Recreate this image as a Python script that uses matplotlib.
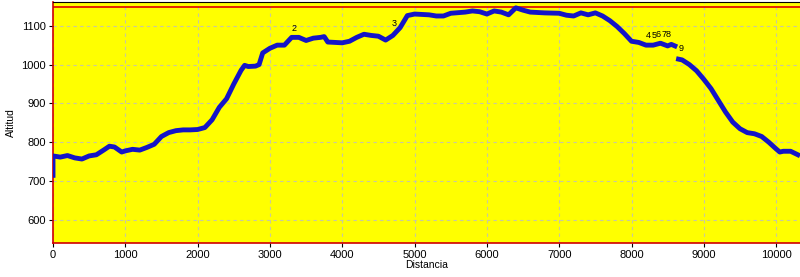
import numpy as np
import matplotlib
matplotlib.use("Agg")
import matplotlib.pyplot as plt

plt.rcParams['font.family'] = ['Liberation Sans', 'DejaVu Sans']

# perfil de altitud (tramo 1, hasta el punto 8)
dist1 = [0, 0, 100, 200, 300, 400, 500, 600, 700, 780, 850, 950, 1000, 1100, 1200,
         1300, 1400, 1500, 1600, 1700, 1800, 1900, 2000, 2100, 2200, 2300, 2400,
         2500, 2600, 2650, 2700, 2800, 2850, 2900, 3000, 3100, 3200, 3300, 3400,
         3500, 3600, 3700, 3750, 3800, 3900, 4000, 4100, 4200, 4300, 4400, 4500,
         4600, 4700, 4800, 4900, 5000, 5200, 5300, 5400, 5500, 5700, 5800, 5900,
         6000, 6100, 6200, 6300, 6400, 6500, 6600, 6800, 7000, 7100, 7200, 7300,
         7400, 7500, 7600, 7700, 7800, 7900, 8000, 8100, 8200, 8300, 8400, 8500,
         8550, 8600]
alt1 = [715, 765, 762, 766, 760, 757, 765, 768, 780, 790, 788, 775, 778, 782, 780,
        787, 795, 815, 825, 830, 832, 832, 833, 838, 858, 890, 912,
        950, 985, 998, 995, 996, 1000, 1030, 1042, 1050, 1050, 1070, 1070,
        1062, 1068, 1070, 1072, 1058, 1057, 1056, 1060, 1070, 1078, 1075, 1073,
        1063, 1075, 1095, 1126, 1130, 1128, 1125, 1125, 1132, 1135, 1138, 1136,
        1130, 1138, 1135, 1128, 1146, 1140, 1135, 1133, 1132, 1127, 1125, 1133,
        1128, 1133, 1125, 1113, 1098, 1080, 1060, 1057, 1050, 1050, 1055, 1048,
        1052, 1048]

# tramo 2, desde el punto 9
dist2 = [8650, 8700, 8800, 8900, 9000, 9100, 9200, 9300, 9400, 9500, 9600, 9700,
         9800, 9900, 10000, 10050, 10100, 10200, 10300]
alt2 = [1014, 1012, 1000, 984, 962, 938, 908, 878, 852, 835, 825, 822,
        815, 800, 783, 775, 777, 777, 768]

# puntos de paso
wp_labels = ['2', '3', '4', '5', '6', '7', '8', '9']
wp_x = [3330, 4720, 8230, 8310, 8370, 8450, 8510, 8680]
wp_y = [1082, 1093, 1062, 1062, 1065, 1065, 1065, 1030]

alt_max = 1149

fig = plt.figure(figsize=(8, 2.77), dpi=100)
fig.patch.set_facecolor('white')
ax = fig.add_axes([53 / 800, 1 - 243 / 277, 1 - 53 / 800, 241 / 277])
ax.set_facecolor('#ffff00')

ax.plot(dist1, alt1, color='#1414c8', lw=3.5, solid_joinstyle='round', zorder=3)
ax.plot(dist2, alt2, color='#1414c8', lw=3.5, solid_joinstyle='round', zorder=3)
ax.axhline(alt_max, color='#e00000', lw=1.2, zorder=2)

for lab, x, y in zip(wp_labels, wp_x, wp_y):
    ax.text(x, y, lab, fontsize=6.5, ha='center', va='bottom', zorder=4)

ax.set_xlim(0, 10330)
ax.set_ylim(541, 1161)
ax.set_xticks(np.arange(0, 10001, 1000))
ax.set_yticks(np.arange(600, 1101, 100))
ax.grid(True, ls=(0, (3, 3)), color='#c8c8a0', lw=0.8)
ax.tick_params(labelsize=8, length=3, width=0.8, pad=2)

for s in ['left', 'bottom']:
    ax.spines[s].set_color('#d00000')
    ax.spines[s].set_linewidth(1.2)
ax.spines['right'].set_visible(False)
ax.spines['top'].set_color('black')

ax.set_xlabel('Distancia', fontsize=7.5, labelpad=0)
ax.set_ylabel('Altitud', fontsize=7.5, labelpad=4)

fig.savefig('out.png', dpi=100)
